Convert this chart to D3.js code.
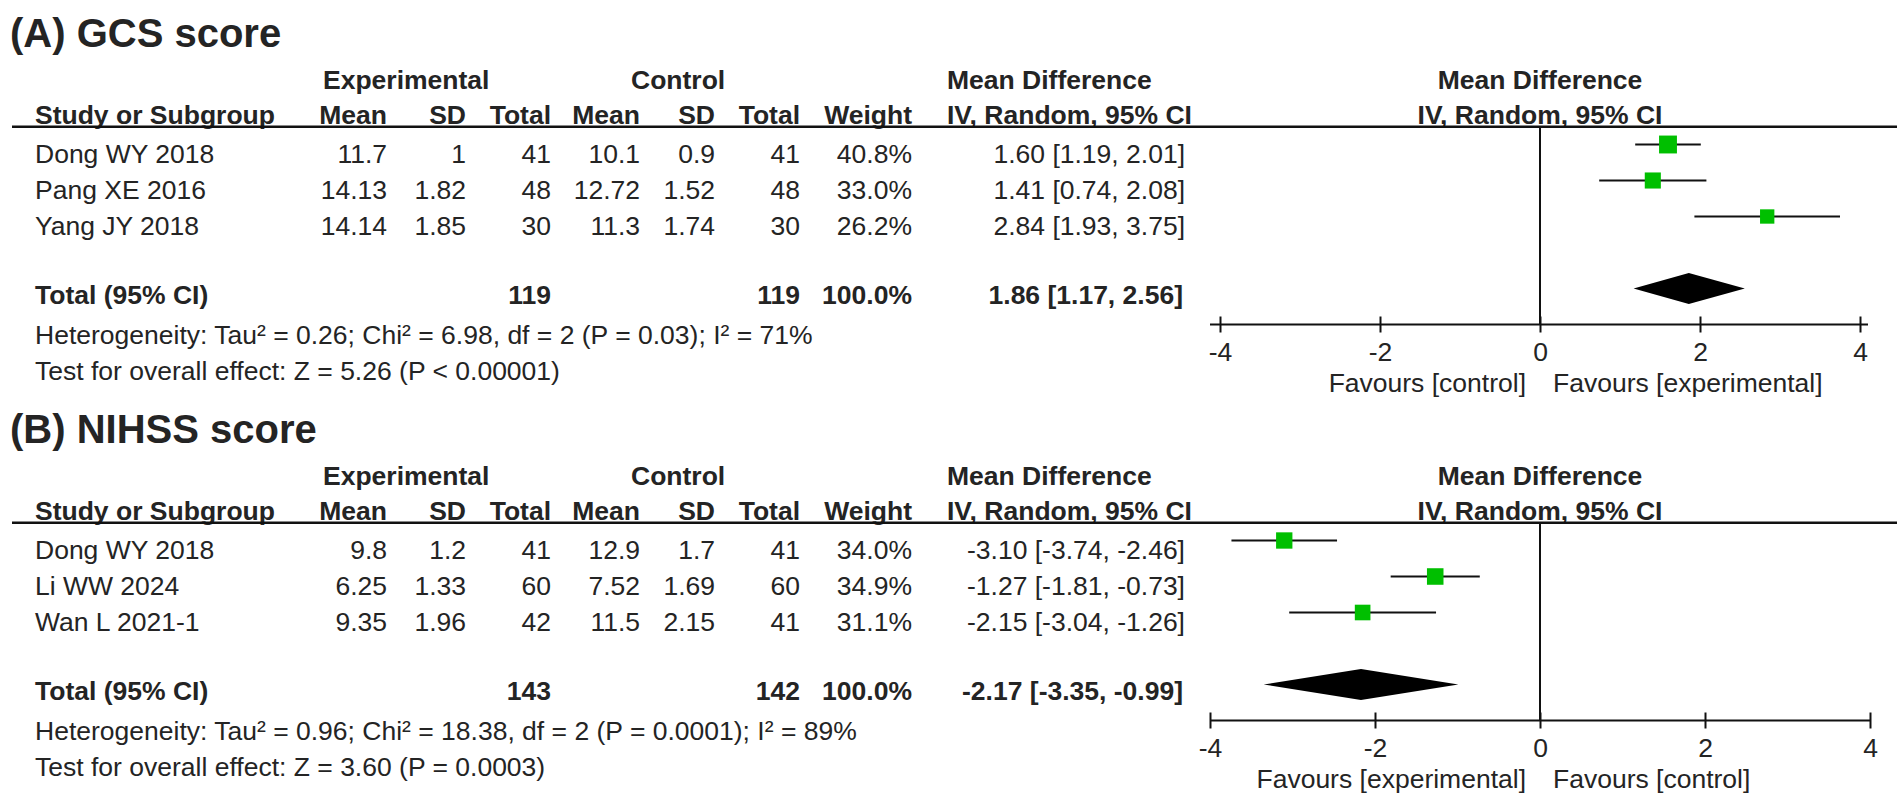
<!DOCTYPE html>
<html>
<head>
<meta charset="utf-8">
<script src="https://cdn.jsdelivr.net/npm/d3@7"></script>
<style>
    body { margin: 0; background: #fff; }
    svg text { font-family: 'Liberation Sans', Arial, sans-serif; fill: #242424; }
</style>
</head>
<body>
<svg id="forest"></svg>
<script>
(function () {
    'use strict';

    // (A) GCS score
    const titleA = '(A) GCS score';
    const studiesA = ['Dong WY 2018', 'Pang XE 2016', 'Yang JY 2018'];
    const expMeanA = [11.7, 14.13, 14.14];
    const expSdA = [1, 1.82, 1.85];
    const expNA = [41, 48, 30];
    const ctlMeanA = [10.1, 12.72, 11.3];
    const ctlSdA = [0.9, 1.52, 1.74];
    const ctlNA = [41, 48, 30];
    const weightA = [40.8, 33.0, 26.2];
    const mdA = [1.60, 1.41, 2.84];
    const lowerA = [1.19, 0.74, 1.93];
    const upperA = [2.01, 2.08, 3.75];
    const totalNA = [119, 119];
    const totalA = [1.86, 1.17, 2.56];
    const hetA = 'Heterogeneity: Tau² = 0.26; Chi² = 6.98, df = 2 (P = 0.03); I² = 71%';
    const testA = 'Test for overall effect: Z = 5.26 (P < 0.00001)';
    const favoursA = ['Favours [control]', 'Favours [experimental]'];

    // (B) NIHSS score
    const titleB = '(B) NIHSS score';
    const studiesB = ['Dong WY 2018', 'Li WW 2024', 'Wan L 2021-1'];
    const expMeanB = [9.8, 6.25, 9.35];
    const expSdB = [1.2, 1.33, 1.96];
    const expNB = [41, 60, 42];
    const ctlMeanB = [12.9, 7.52, 11.5];
    const ctlSdB = [1.7, 1.69, 2.15];
    const ctlNB = [41, 60, 41];
    const weightB = [34.0, 34.9, 31.1];
    const mdB = [-3.10, -1.27, -2.15];
    const lowerB = [-3.74, -1.81, -3.04];
    const upperB = [-2.46, -0.73, -1.26];
    const totalNB = [143, 142];
    const totalB = [-2.17, -3.35, -0.99];
    const hetB = 'Heterogeneity: Tau² = 0.96; Chi² = 18.38, df = 2 (P = 0.0001); I² = 89%';
    const testB = 'Test for overall effect: Z = 3.60 (P = 0.0003)';
    const favoursB = ['Favours [experimental]', 'Favours [control]'];

    const headTop = ['Experimental', 'Control', 'Mean Difference', 'Mean Difference'];
    const headCols = ['Study or Subgroup', 'Mean', 'SD', 'Total', 'Mean', 'SD', 'Total', 'Weight', 'IV, Random, 95% CI', 'IV, Random, 95% CI'];
    const ticks = [-4, -2, 0, 2, 4];

    const panels = [
        { title: titleA, studies: studiesA, cells: [expMeanA, expSdA, expNA, ctlMeanA, ctlSdA, ctlNA], weight: weightA,
          md: mdA, lower: lowerA, upper: upperA, totalN: totalNA, total: totalA, het: hetA, test: testA, favours: favoursA,
          oy: 0, range: [1220, 1860], pad: [10, 8] },
        { title: titleB, studies: studiesB, cells: [expMeanB, expSdB, expNB, ctlMeanB, ctlSdB, ctlNB], weight: weightB,
          md: mdB, lower: lowerB, upper: upperB, totalN: totalNB, total: totalB, het: hetB, test: testB, favours: favoursB,
          oy: 396, range: [1210, 1870], pad: [0, 0] }
    ];

    const fs = 26.5;
    const colX = [387, 466, 551, 640, 715, 800];   // right edges of numeric columns
    const weightX = 912;
    const ciX = 1185;
    const leftX = 35;

    const svg = d3.select('#forest')
        .attr('width', 1902)
        .attr('height', 810);

    const size = d3.scaleSqrt().domain([0, 100]).range([0, 28]);
    const fmt2 = (v) => v.toFixed(2);
    const ciText = (m, l, u) => `${fmt2(m)} [${fmt2(l)}, ${fmt2(u)}]`;

    panels.forEach((p) => {
        const g = svg.append('g').attr('transform', `translate(0, ${p.oy})`);
        const x = d3.scaleLinear().domain([-4, 4]).range(p.range);
        const y = d3.scaleLinear().domain([0, 1]).range([144.5, 180.5]);
        const lineY = 126.7;
        const axisY = y(4) + 36;

        g.append('text')
            .attr('x', 10)
            .attr('y', 47)
            .attr('font-size', 40)
            .attr('font-weight', 'bold')
            .text(p.title);

        // header rows
        const top = g.append('g').attr('font-size', fs).attr('font-weight', 'bold');
        [[323, 'start'], [631, 'start'], [947, 'start'], [x(0), 'middle']].forEach((d, i) => {
            top.append('text')
                .attr('x', d[0])
                .attr('y', 88.5)
                .attr('text-anchor', d[1])
                .text(headTop[i]);
        });
        const hx = [[leftX, 'start']].concat(colX.map((c) => [c, 'end']), [[weightX, 'end'], [947, 'start'], [x(0), 'middle']]);
        hx.forEach((d, i) => {
            top.append('text')
                .attr('x', d[0])
                .attr('y', 124)
                .attr('text-anchor', d[1])
                .text(headCols[i]);
        });

        g.append('line')
            .attr('x1', 12).attr('x2', 1897)
            .attr('y1', lineY).attr('y2', lineY)
            .attr('stroke', '#111').attr('stroke-width', 2.5);

        // study rows
        const body = g.append('g').attr('font-size', fs);
        p.studies.forEach((s, i) => {
            const by = y(i) + 18.5;
            body.append('text').attr('x', leftX).attr('y', by).text(s);
            p.cells.forEach((col, j) => {
                body.append('text')
                    .attr('x', colX[j]).attr('y', by)
                    .attr('text-anchor', 'end')
                    .text(String(col[i]));
            });
            body.append('text')
                .attr('x', weightX).attr('y', by)
                .attr('text-anchor', 'end')
                .text(p.weight[i].toFixed(1) + '%');
            body.append('text')
                .attr('x', ciX).attr('y', by)
                .attr('text-anchor', 'end')
                .text(ciText(p.md[i], p.lower[i], p.upper[i]));
        });

        // total row
        const ty = y(4) + 15;
        const tot = g.append('g').attr('font-size', fs).attr('font-weight', 'bold');
        tot.append('text').attr('x', leftX).attr('y', ty).text('Total (95% CI)');
        tot.append('text').attr('x', colX[2]).attr('y', ty).attr('text-anchor', 'end').text(p.totalN[0]);
        tot.append('text').attr('x', colX[5]).attr('y', ty).attr('text-anchor', 'end').text(p.totalN[1]);
        tot.append('text').attr('x', weightX).attr('y', ty).attr('text-anchor', 'end').text('100.0%');
        tot.append('text').attr('x', ciX - 2).attr('y', ty).attr('text-anchor', 'end')
            .text(ciText(p.total[0], p.total[1], p.total[2]));

        body.append('text').attr('x', leftX).attr('y', y(4) + 55).text(p.het);
        body.append('text').attr('x', leftX).attr('y', y(4) + 91).text(p.test);

        // zero line
        g.append('line')
            .attr('x1', x(0)).attr('x2', x(0))
            .attr('y1', lineY).attr('y2', axisY)
            .attr('stroke', '#111').attr('stroke-width', 2);

        // confidence intervals and squares
        const mark = g.selectAll('.study')
            .data(p.md)
            .enter().append('g')
                .attr('class', 'study');

        mark.append('line')
            .attr('x1', (d, i) => x(p.lower[i]))
            .attr('x2', (d, i) => x(p.upper[i]))
            .attr('y1', (d, i) => y(i))
            .attr('y2', (d, i) => y(i))
            .attr('stroke', '#111')
            .attr('stroke-width', 2);

        mark.append('rect')
            .attr('x', (d, i) => x(d) - size(p.weight[i]) / 2)
            .attr('y', (d, i) => y(i) - size(p.weight[i]) / 2)
            .attr('width', (d, i) => size(p.weight[i]))
            .attr('height', (d, i) => size(p.weight[i]))
            .attr('fill', '#00bf00');

        // pooled diamond
        const dy = y(4);
        g.append('path')
            .attr('d', `M${x(p.total[1])},${dy} L${x(p.total[0])},${dy - 15.5} L${x(p.total[2])},${dy} L${x(p.total[0])},${dy + 15.5} Z`)
            .attr('fill', '#000');

        // axis
        const ax = g.append('g')
            .attr('transform', `translate(0, ${axisY})`)
            .call(d3.axisBottom(x)
                .tickValues(ticks)
                .tickSizeInner(8)
                .tickSizeOuter(0)
                .tickFormat((d) => String(d)));
        ax.attr('font-size', fs).attr('font-family', null);
        ax.select('.domain').remove();
        ax.append('line')
            .attr('x1', p.range[0] - p.pad[0]).attr('x2', p.range[1] + p.pad[1])
            .attr('stroke', '#111').attr('stroke-width', 2);
        ax.selectAll('.tick line')
            .attr('y1', -8).attr('y2', 8)
            .attr('stroke', '#111').attr('stroke-width', 2);
        ax.selectAll('.tick text')
            .attr('y', 36.4)
            .attr('dy', null);

        body.append('text')
            .attr('x', x(0) - 14).attr('y', axisY + 67.5)
            .attr('text-anchor', 'end')
            .text(p.favours[0]);
        body.append('text')
            .attr('x', x(0) + 13).attr('y', axisY + 67.5)
            .text(p.favours[1]);
    });
})();
</script>
</body>
</html>
